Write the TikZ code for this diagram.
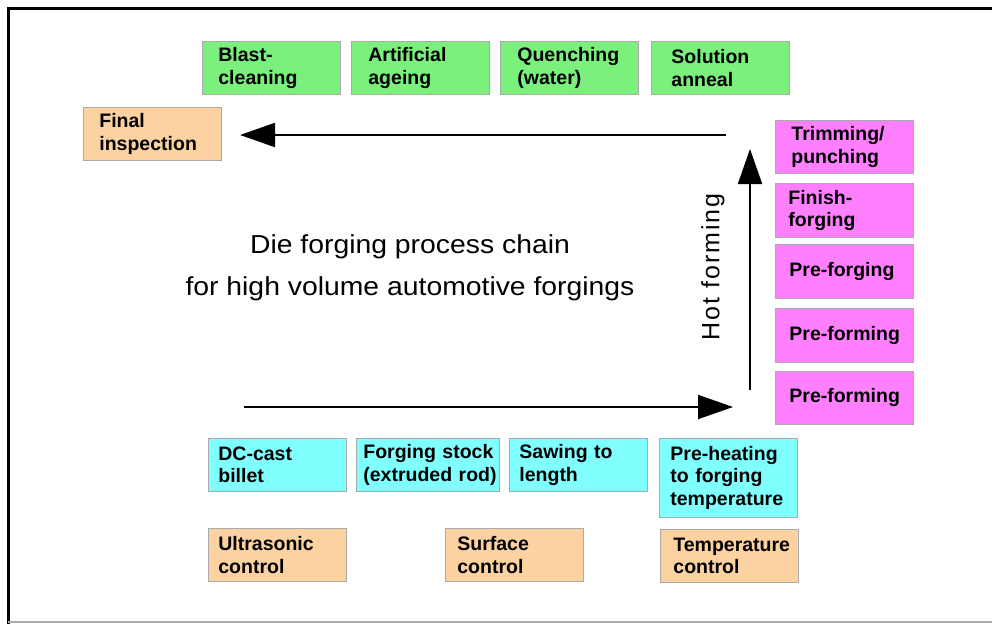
\documentclass[tikz,border=0pt]{standalone}
\usepackage{fontspec}
\setmainfont{Liberation Sans}
\usetikzlibrary{arrows.meta}
\definecolor{grn}{RGB}{124,240,124}
\definecolor{mag}{RGB}{255,128,255}
\definecolor{cyn}{RGB}{128,255,255}
\definecolor{org}{RGB}{251,210,160}
\definecolor{edge}{RGB}{170,170,170}
\tikzset{
  box/.style={draw=edge, line width=0.8pt, anchor=north west, align=left,
    inner xsep=#1, inner ysep=0pt, font=\fontsize{19.5}{22.5}\selectfont\bfseries,
    text width=138pt-2*#1, minimum width=138pt, minimum height=53pt},
  box/.default=15pt,
  bigarrow/.style={line width=2pt, -{Triangle[length=35pt,width=24pt]}},
  titletext/.style={font=\fontsize{26}{30}\selectfont, anchor=base, xscale=1.09},
}
\begin{document}
\begin{tikzpicture}[x=1pt,y=-1pt]
\useasboundingbox (0,0) rectangle (992,624);
\draw[line width=3pt] (992,8) -- (8,8) -- (8,624);
\draw[edge, line width=1.5pt] (8,622) -- (992,622);
% green
\node[box=16pt, fill=grn] (blast) at (202,41) {Blast-\\cleaning};
\node[box=17pt, fill=grn] (ageing) at (351,41) {Artificial\\ageing};
\node[box=17pt, fill=grn] (quench) at (500,41) {Quenching\\(water)};
\node[box=20pt, fill=grn] (anneal) at (651,41) {Solution\\anneal};
% final
\node[box=16pt, fill=org] (final) at (83,107) {Final\\inspection};
% magenta
\node[box=16pt, fill=mag] (trim) at (775,120) {Trimming/\\punching};
\node[box=13pt, fill=mag, minimum height=54pt] (finish) at (775,183) {Finish-\\forging};
\node[box=14pt, fill=mag, minimum height=54pt] (prefg) at (775,244) {\mbox{Pre-forging}};
\node[box=14pt, fill=mag, minimum height=54pt] (prefm1) at (775,308) {\mbox{Pre-forming}};
\node[box=14pt, fill=mag, minimum height=53pt] (prefm2) at (775,371) {\mbox{Pre-forming}};
% cyan
\node[box=10pt, fill=cyn] (dc) at (208,438) {DC-cast\\billet};
\node[box=7pt, fill=cyn, minimum width=143pt, text width=129pt] (stock) at (356,438) {\mbox{Forging stock}\\\mbox{(extruded rod)}};
\node[box=10pt, fill=cyn] (saw) at (509,438) {\mbox{Sawing to}\\length};
\node[box=11pt, fill=cyn, minimum height=79pt] (heat) at (659,438) {\mbox{Pre-heating}\\\mbox{to forging}\\\mbox{temperature}};
% orange controls
\node[box=10pt, fill=org] (ultra) at (208,528) {Ultrasonic\\control};
\node[box=12pt, fill=org] (surf) at (445,528) {Surface\\control};
\node[box=13pt, fill=org] (tempc) at (660,529) {\mbox{Temperature}\\control};
% title
\node[titletext] (title1) at (410,253) {Die forging process chain};
\node[titletext] (title2) at (410,295) {for high volume automotive forgings};
% arrows
\coordinate (a1s) at (244,407);
\coordinate (a1e) at (733,407);
\coordinate (a2s) at (750,390);
\coordinate (a2e) at (750,149);
\coordinate (a3s) at (726,135);
\coordinate (a3e) at (240,135);
\draw[bigarrow] (a1s) -- (a1e);
\draw[bigarrow] (a2s) -- (a2e);
\draw[bigarrow] (a3s) -- (a3e);
\node[rotate=90, font=\fontsize{25}{25}\selectfont\addfontfeature{LetterSpace=8}] (hot) at (713,267) {Hot forming};
\end{tikzpicture}
\end{document}
